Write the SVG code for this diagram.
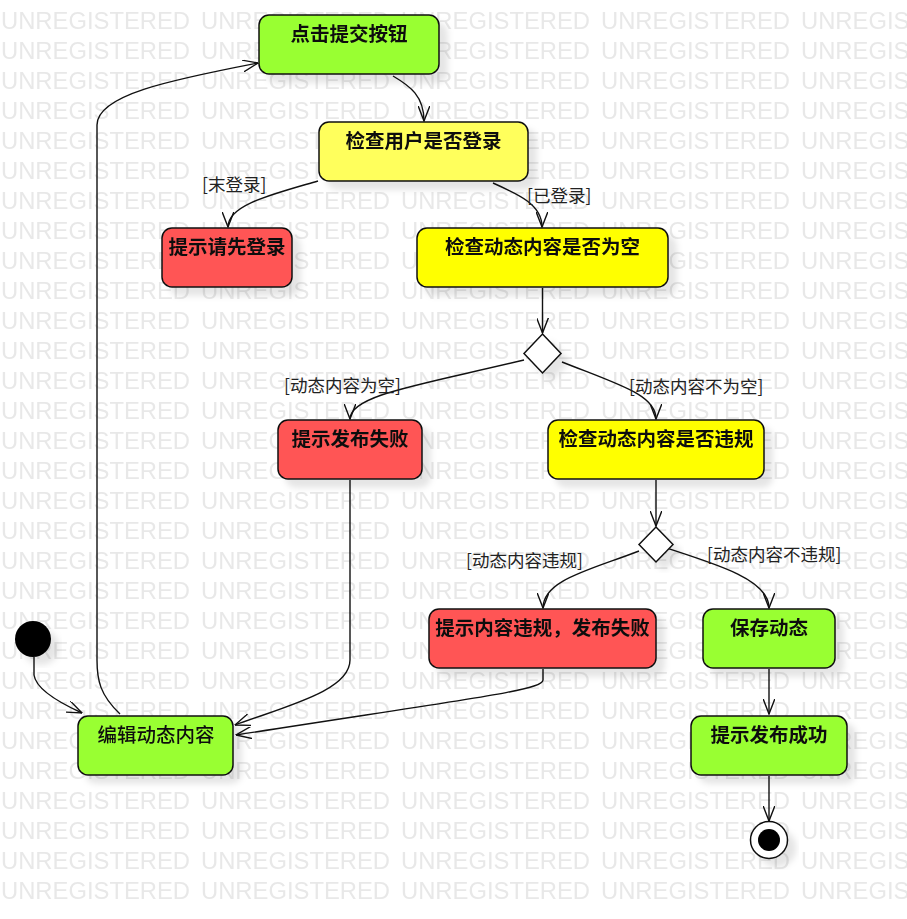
<svg xmlns="http://www.w3.org/2000/svg" width="907" height="919" viewBox="0 0 907 919">
<style>
.wm{font-family:"Liberation Sans",Arial,sans-serif;font-size:23px;fill:#e8e8e8}
.node rect{stroke:#111;stroke-width:1.5}
.n-green{fill:#99ff33}
.n-red{fill:#ff5555}
.n-yel1{fill:#ffff5c}
.n-yel2{fill:#ffff00}
.lbl{font-family:"Noto Sans CJK SC","Noto Sans",sans-serif;font-size:19.5px;font-weight:bold;fill:#111;text-anchor:middle}
.guard{font-family:"Noto Sans CJK SC","Noto Sans",sans-serif;font-size:17.5px;fill:#222}
.edge{fill:none;stroke:#111;stroke-width:1.4;marker-end:url(#arr)}
.shadow{filter:url(#sh)}
</style>
<defs>
<pattern id="wm" x="0" y="0" width="200" height="30" patternUnits="userSpaceOnUse">
<text class="wm" x="1" y="29" textLength="189" lengthAdjust="spacingAndGlyphs">UNREGISTERED</text>
</pattern>
<filter id="sh" x="-20%" y="-20%" width="150%" height="150%">
<feDropShadow dx="8" dy="8" stdDeviation="3" flood-color="#000" flood-opacity="0.1"/>
</filter>
<marker id="arr" viewBox="0 0 16 12" refX="15.5" refY="6" markerWidth="16" markerHeight="12" markerUnits="userSpaceOnUse" orient="auto">
<path d="M0,0 L15.5,6 L0,12" fill="none" stroke="#111" stroke-width="1.4"/>
</marker>
</defs>
<rect x="0" y="0" width="907" height="919" fill="#fff"/>
<rect x="0" y="0" width="907" height="900" fill="url(#wm)"/>

<g id="connectors">
<path class="edge" d="M393,76 C410,86 424,96 424,121"/>
<path class="edge" d="M318,181 C270,195 228,205 228,227"/>
<path class="edge" d="M493,183 C520,195 542,205 542,227"/>
<path class="edge" d="M542.5,288 L542.5,333"/>
<path class="edge" d="M524,360 C420,385 350,395 350,419"/>
<path class="edge" d="M562,362 C620,385 656,395 656,419"/>
<path class="edge" d="M656,480 L656,526"/>
<path class="edge" d="M639,551 C590,570 543,580 543,608"/>
<path class="edge" d="M657,545 C720,565 769,580 769,608"/>
<path class="edge" d="M769,669 L769,714"/>
<path class="edge" d="M769,776 L769,821"/>
<path class="edge" d="M34,657 L34,675 C36,690 60,703 82,713"/>
<path class="edge" d="M120,714 C100,695 97,680 97,660 L97,125 C97,95 170,80 258,63"/>
<path class="edge" d="M350,480 L350,660 C350,690 290,705 235,725"/>
<path class="edge" d="M543,669 L543,680 C543,690 480,697 236,735"/>
<text class="guard" x="202" y="191">[末登录]</text>
<text class="guard" x="527" y="202">[已登录]</text>
<text class="guard" x="284" y="392">[动态内容为空]</text>
<text class="guard" x="629" y="393">[动态内容不为空]</text>
<text class="guard" x="466" y="567">[动态内容违规]</text>
<text class="guard" x="707" y="561">[动态内容不违规]</text>
</g>

<g id="start" class="shadow"><circle cx="33" cy="639" r="18" fill="#000"/></g>

<g id="n1" class="node shadow"><rect class="n-green" x="259" y="15" width="180" height="59" rx="10"/><text class="lbl" x="349" y="41">点击提交按钮</text></g>
<g id="n2" class="node shadow"><rect class="n-yel1" x="319" y="122" width="209" height="59" rx="10"/><text class="lbl" x="423.5" y="148">检查用户是否登录</text></g>
<g id="n3" class="node shadow"><rect class="n-red" x="162" y="228" width="130" height="59" rx="10"/><text class="lbl" x="227" y="254">提示请先登录</text></g>
<g id="n4" class="node shadow"><rect class="n-yel2" x="417" y="228" width="251" height="59" rx="10"/><text class="lbl" x="542.5" y="254">检查动态内容是否为空</text></g>
<g id="d1" class="shadow"><polygon points="542.5,334 561,353.5 542.5,373 524,353.5" fill="#fff" stroke="#111" stroke-width="1.5"/></g>
<g id="n5" class="node shadow"><rect class="n-red" x="278" y="420" width="144" height="59" rx="10"/><text class="lbl" x="350" y="446">提示发布失败</text></g>
<g id="n6" class="node shadow"><rect class="n-yel2" x="548" y="420" width="216" height="59" rx="10"/><text class="lbl" x="656" y="446">检查动态内容是否违规</text></g>
<g id="d2" class="shadow"><polygon points="656,527 673,544.5 656,562 639,544.5" fill="#fff" stroke="#111" stroke-width="1.5"/></g>
<g id="n7" class="node shadow"><rect class="n-red" x="429" y="609" width="227" height="59" rx="10"/><text class="lbl" x="542.5" y="635">提示内容违规，发布失败</text></g>
<g id="n8" class="node shadow"><rect class="n-green" x="703" y="609" width="132" height="59" rx="10"/><text class="lbl" x="769" y="635">保存动态</text></g>
<g id="n9" class="node shadow"><rect class="n-green" x="78" y="716" width="155" height="59" rx="10"/><text class="lbl" x="156" y="742" style="font-weight:500">编辑动态内容</text></g>
<g id="n10" class="node shadow"><rect class="n-green" x="691" y="716" width="156" height="59" rx="10"/><text class="lbl" x="769" y="742">提示发布成功</text></g>
<g id="end" class="shadow"><circle cx="769" cy="840" r="18.5" fill="#fff" stroke="#111" stroke-width="1.5"/><circle cx="769" cy="840" r="11" fill="#000"/></g>
</svg>
